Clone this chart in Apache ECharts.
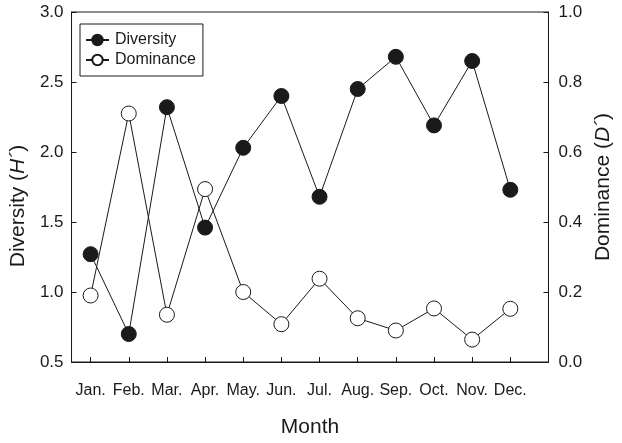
<!DOCTYPE html>
<html>
<head>
<meta charset="utf-8">
<script src="https://cdn.jsdelivr.net/npm/echarts@6/dist/echarts.min.js"></script>
<style>
  html, body { margin: 0; padding: 0; background: #fff; }
  #chart { width: 622px; height: 443px; }
</style>
</head>
<body>
<div id="chart"></div>
<script>
// Monthly diversity (H') and dominance (D') indices
const months = ['Jan.', 'Feb.', 'Mar.', 'Apr.', 'May.', 'Jun.', 'Jul.', 'Aug.', 'Sep.', 'Oct.', 'Nov.', 'Dec.'];
const diversity = [1.27, 0.70, 2.32, 1.46, 2.03, 2.40, 1.68, 2.45, 2.68, 2.19, 2.65, 1.73];
const dominance = [0.19, 0.71, 0.135, 0.494, 0.200, 0.108, 0.238, 0.125, 0.090, 0.153, 0.064, 0.152];
const leftTicks = [0.5, 1.0, 1.5, 2.0, 2.5, 3.0];
const rightTicks = [0.0, 0.2, 0.4, 0.6, 0.8, 1.0];

const FONT = '"Liberation Sans", Arial, Helvetica, sans-serif';
const INK = '#1a1a1a';

// month positions on the value x axis: Jan. = 1 ... Dec. = 12
const monthPos = months.map((m, i) => i + 1);
const toPairs = vals => vals.map((v, i) => [monthPos[i], v]);

const chart = echarts.init(document.getElementById('chart'), null, { renderer: 'canvas' });

chart.setOption({
  animation: false,
  backgroundColor: '#fff',
  textStyle: { fontFamily: FONT, color: INK },
  grid: {
    left: 69, right: 65, top: 12, bottom: 77,
    show: true, borderColor: INK, borderWidth: 1, backgroundColor: 'transparent'
  },
  legend: {
    left: 80, top: 24,
    orient: 'vertical',
    backgroundColor: '#fff',
    borderColor: INK, borderWidth: 1, borderRadius: 0,
    padding: [8, 7, 8, 5],
    itemGap: 4,
    itemWidth: 23, itemHeight: 13,
    textStyle: { fontFamily: FONT, fontSize: 16, color: INK, padding: [0, 0, 0, 1] },
    data: ['Diversity', 'Dominance']
  },
  xAxis: {
    type: 'value',
    min: 0.5, max: 13,
    name: 'Month',
    nameLocation: 'middle',
    nameGap: 55,
    nameTextStyle: { fontFamily: FONT, fontSize: 21, color: INK },
    splitLine: { show: false },
    axisLine: { show: true, onZero: false, lineStyle: { color: INK, width: 1 } },
    axisTick: { show: true, inside: true, length: 5, customValues: monthPos, lineStyle: { color: INK } },
    axisLabel: {
      customValues: monthPos,
      margin: 21,
      fontFamily: FONT, fontSize: 16, color: INK,
      formatter: v => months[Math.round(v) - 1] || ''
    }
  },
  yAxis: [
    {
      type: 'value',
      position: 'left',
      min: 0.5, max: 3.0, interval: 0.5,
      name: 'Diversity ({i|H´})',
      nameLocation: 'middle',
      nameRotate: 90,
      nameGap: 41,
      nameTextStyle: {
        fontFamily: FONT, fontSize: 21, color: INK,
        padding: [0, 38, 0, 0],
        rich: { i: { fontFamily: FONT, fontSize: 21, fontStyle: 'italic', color: INK } }
      },
      splitLine: { show: false },
      axisLine: { show: true, lineStyle: { color: INK, width: 1 } },
      axisTick: { show: true, inside: true, length: 5, lineStyle: { color: INK } },
      axisLabel: {
        margin: 8, fontFamily: FONT, fontSize: 17, color: INK,
        customValues: leftTicks,
        formatter: v => v.toFixed(1)
      }
    },
    {
      type: 'value',
      position: 'right',
      min: 0, max: 1.0, interval: 0.2,
      name: 'Dominance ({i|D´})',
      nameLocation: 'middle',
      nameRotate: 90,
      nameGap: 40,
      nameTextStyle: {
        fontFamily: FONT, fontSize: 21, color: INK,
        rich: { i: { fontFamily: FONT, fontSize: 21, fontStyle: 'italic', color: INK } }
      },
      splitLine: { show: false },
      axisLine: { show: true, lineStyle: { color: INK, width: 1 } },
      axisTick: { show: true, inside: true, length: 5, lineStyle: { color: INK } },
      axisLabel: {
        margin: 10, fontFamily: FONT, fontSize: 17, color: INK,
        customValues: rightTicks,
        formatter: v => v.toFixed(1)
      }
    }
  ],
  series: [
    {
      name: 'Diversity',
      type: 'line',
      yAxisIndex: 0,
      data: toPairs(diversity),
      symbol: 'circle',
      symbolSize: 15,
      lineStyle: { color: INK, width: 1 },
      itemStyle: { color: INK, borderColor: INK, borderWidth: 1 },
      z: 3
    },
    {
      name: 'Dominance',
      type: 'line',
      yAxisIndex: 1,
      data: toPairs(dominance),
      symbol: 'circle',
      symbolSize: 15,
      lineStyle: { color: INK, width: 1 },
      itemStyle: { color: '#fff', borderColor: INK, borderWidth: 1 },
      z: 2
    }
  ]
});
</script>
</body>
</html>
